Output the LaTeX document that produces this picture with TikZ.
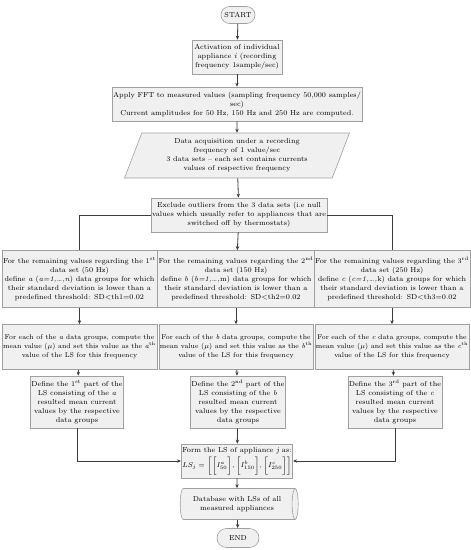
\documentclass[tikz,border=0pt]{standalone}
\usetikzlibrary{shapes.geometric,shapes.misc,arrows.meta}
\definecolor{boxfill}{HTML}{F0F0F0}
\definecolor{boxline}{HTML}{A0A0A0}
\definecolor{arrcol}{HTML}{3C3C3C}
\begin{document}
\begin{tikzpicture}[x=1pt,y=-1pt,
  font=\fontsize{7.2}{9}\selectfont,
  box/.style={draw=boxline, fill=boxfill, line width=0.6pt, align=center, inner sep=1pt},
  pill/.style={box, rounded rectangle},
  small/.style={font=\fontsize{6.9}{9}\selectfont},
  arr/.style={draw=arrcol, line width=0.8pt, -{Stealth[length=4pt,width=3.4pt]}},
  ln/.style={draw=arrcol, line width=0.8pt}]
\useasboundingbox (0,0) rectangle (471,550);
\node[pill, minimum width=36pt, minimum height=17pt] (start) at (238,15) {START};
\node[box, minimum width=90pt, minimum height=34pt] (act) at (237,57)
  {Activation of individual\\ appliance \textit{i} (recording\\ frequency 1sample/sec)};
\node[box, minimum width=250pt, minimum height=34pt] (fft) at (237,104)
  {Apply FFT to measured values (sampling frequency 50,000 samples/\\ sec)\\ Current amplitudes for 50 Hz, 150 Hz and 250 Hz are computed.};
\node[box, trapezium, trapezium left angle=64, trapezium right angle=116, trapezium stretches body,
  minimum width=225pt, minimum height=45pt] (data) at (237,155.5)
  {Data acquisition under a recording\\ frequency of 1 value/sec\\ 3 data sets -- each set contains currents\\ values of respective frequency};
\node[box, minimum width=152pt, minimum height=34pt] (excl) at (239,215)
  {Exclude outliers from the 3 data sets (i.e null\\ values which usually refer to appliances that are\\ switched off by thermostats)};
% row 1
\node[box, minimum width=154pt, minimum height=57pt] (l1) at (79.5,279)
  {For the remaining values regarding the 1\textsuperscript{st}\\ data set (50 Hz)\\ define \textit{a} (\textit{a=1,\dots,n}) data groups for which\\ their standard deviation is lower than a\\ predefined threshold: SD<th1=0.02};
\node[box, minimum width=154pt, minimum height=57pt] (m1) at (236,279)
  {For the remaining values regarding the 2\textsuperscript{nd}\\ data set (150 Hz)\\ define \textit{b} (\textit{b=1,\dots,}m) data groups for which\\ their standard deviation is lower than a\\ predefined threshold: SD<th2=0.02};
\node[box, minimum width=154pt, minimum height=57pt] (r1) at (392,279)
  {For the remaining values regarding the 3\textsuperscript{rd}\\ data set (250 Hz)\\ define \textit{c} (\textit{c=1,\dots,}k) data groups for which\\ their standard deviation is lower than a\\ predefined threshold: SD<th3=0.02};
% row 2
\node[box, small, minimum width=154pt, minimum height=45pt] (l2) at (79.5,347)
  {For each of the \textit{a} data groups, compute the\\ mean value ($\mu$) and set this value as the \textit{a}\textsuperscript{th}\\ value of the LS for this frequency};
\node[box, small, minimum width=154pt, minimum height=45pt] (m2) at (236,347)
  {For each of the \textit{b} data groups, compute the\\ mean value ($\mu$) and set this value as the \textit{b}\textsuperscript{th}\\ value of the LS for this frequency};
\node[box, small, minimum width=154pt, minimum height=45pt] (r2) at (392,347)
  {For each of the \textit{c} data groups, compute the\\ mean value ($\mu$) and set this value as the \textit{c}\textsuperscript{th}\\ value of the LS for this frequency};
% row 3
\node[box, minimum width=89pt, minimum height=52pt] (l3) at (77,402)
  {Define the 1\textsuperscript{st} part of the\\ LS consisting of the \textit{a}\\ resulted mean current\\ values by the respective\\ data groups};
\node[box, minimum width=93pt, minimum height=52pt] (m3) at (238,402)
  {Define the 2\textsuperscript{nd} part of the\\ LS consisting of the \textit{b}\\ resulted mean current\\ values by the respective\\ data groups};
\node[box, minimum width=89pt, minimum height=52pt] (r3) at (395,402)
  {Define the 3\textsuperscript{rd} part of the\\ LS consisting of the \textit{c}\\ resulted mean current\\ values by the respective\\ data groups};
% form
\node[box, minimum width=108pt, minimum height=34pt] (form) at (237,461)
  {Form the LS of appliance \textit{j} as:\\[2pt]
   $LS_j=\bigl[\bigl[I^a_{50}\bigr],\bigl[I^b_{150}\bigr],\bigl[I^c_{250}\bigr]\bigr]$};
\node[box, cylinder, shape aspect=0.35, minimum height=118pt, minimum width=31pt] (db) at (237,504)
  {Database with LSs of all\\ measured appliances};
\node[pill, minimum width=44pt, minimum height=19pt] (end) at (238,538) {END};
% connectors
\draw[arr] (start) -- (act);
\draw[arr] (act) -- (fft);
\draw[arr] (fft) -- (data);
\draw[arr] (data) -- (excl);
\draw[arr] (excl) -- (m1);
\draw[ln] (excl.west) -| (l1.north);
\draw[ln] (excl.east) -| (r1.north);
\draw[arr] (l1) -- (l2);
\draw[arr] (m1) -- (m2);
\draw[arr] (r1) -- (r2);
\draw[arr] (l2) -- (l3);
\draw[arr] (m2) -- (m3);
\draw[arr] (r2) -- (r3);
\draw[arr] (l3.south) |- (form.west);
\draw[arr] (r3.south) |- (form.east);
\draw[arr] (m3) -- (form);
\draw[arr] (form) -- (db);
\draw[arr] (db) -- (end);
\end{tikzpicture}
\end{document}
